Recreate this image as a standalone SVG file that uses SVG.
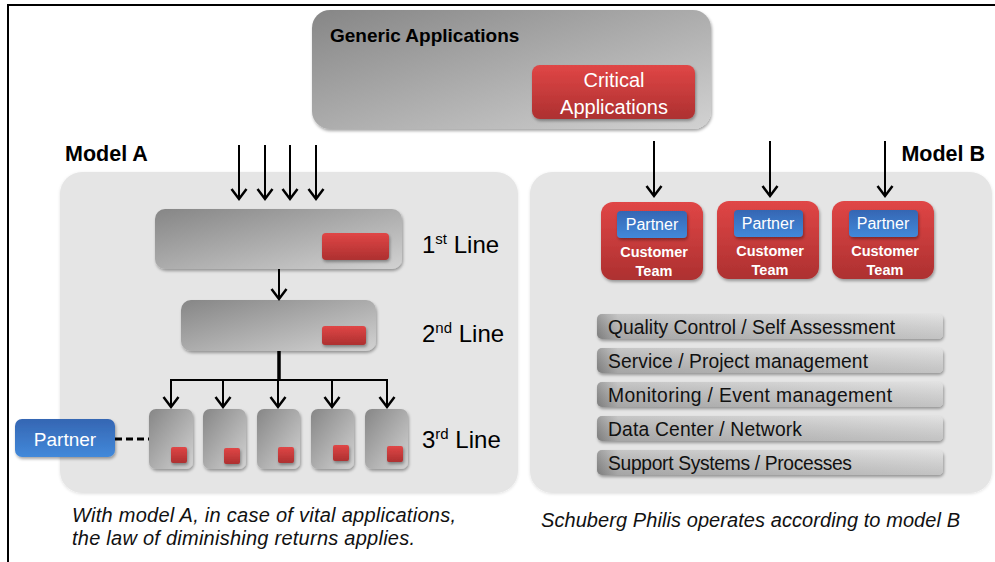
<svg xmlns="http://www.w3.org/2000/svg" width="995" height="562" viewBox="0 0 995 562">
<style>
text{font-family:"Liberation Sans",Arial,sans-serif}
.b{font-weight:bold}
.w{fill:#fff}
.k{fill:#000}
.it{font-style:italic;font-size:20px;fill:#111}
.lbl{font-size:24px;fill:#000}
.sup{font-size:15px}
.bar{font-size:19.3px;fill:#111}
.conn{stroke:#000;stroke-width:2;fill:none}
.panel{fill:#e5e5e5}
</style>
<defs>
<linearGradient id="gray" x1="0" y1="0" x2="1" y2="1">
<stop offset="0" stop-color="#868686"/>
<stop offset="1" stop-color="#d2d2d2"/>
</linearGradient>
<linearGradient id="red" x1="0" y1="0" x2="0" y2="1">
<stop offset="0" stop-color="#e04646"/>
<stop offset="1" stop-color="#ad3030"/>
</linearGradient>
<linearGradient id="blue" x1="0" y1="0" x2="0" y2="1">
<stop offset="0" stop-color="#3566b3"/>
<stop offset="1" stop-color="#4289da"/>
</linearGradient>
<linearGradient id="barg" x1="0" y1="0" x2="1" y2="0">
<stop offset="0" stop-color="#8e8e8e"/>
<stop offset="0.06" stop-color="#bcbcbc"/>
<stop offset="1" stop-color="#dddddd"/>
</linearGradient>
<linearGradient id="barv" x1="0" y1="0" x2="0" y2="1">
<stop offset="0" stop-color="#fff" stop-opacity="0.15"/>
<stop offset="1" stop-color="#000" stop-opacity="0.12"/>
</linearGradient>
<filter id="sh" x="-20%" y="-20%" width="140%" height="150%">
<feDropShadow dx="1" dy="2" stdDeviation="1.6" flood-color="#000" flood-opacity="0.35"/>
</filter>
<filter id="psh" x="-5%" y="-5%" width="110%" height="110%">
<feDropShadow dx="0" dy="1" stdDeviation="1.5" flood-color="#000" flood-opacity="0.12"/>
</filter>
<marker id="ah" markerUnits="userSpaceOnUse" markerWidth="20" markerHeight="20" viewBox="-10 -8 12 16" refX="0" refY="0" orient="auto">
<path d="M-8,-6 L0,0 L-8,6" fill="none" stroke="#000" stroke-width="2"/>
</marker>
</defs>

<g id="frame">
<path d="M8,562 V5 H995" fill="none" stroke="#000" stroke-width="2"/>
</g>

<g id="generic-applications">
<rect x="312" y="10" width="399" height="119" rx="18" fill="url(#gray)" filter="url(#sh)"/>
<text x="330" y="42" class="b k" font-size="19">Generic Applications</text>
</g>
<g id="critical-applications">
<rect x="532" y="65" width="163" height="54" rx="8" fill="url(#red)" filter="url(#sh)"/>
<text x="614" y="87" class="w" font-size="20" text-anchor="middle">Critical</text>
<text x="614" y="114" class="w" font-size="20" text-anchor="middle">Applications</text>
</g>

<g id="model-a-label"><text x="65" y="161" class="b k" font-size="21.5">Model A</text></g>
<g id="model-b-label"><text x="985" y="161" class="b k" font-size="21.5" text-anchor="end">Model B</text></g>

<g id="model-a-panel"><rect x="60" y="172" width="458" height="321" rx="22" class="panel" filter="url(#psh)"/></g>
<g id="model-b-panel"><rect x="530" y="172" width="462" height="321" rx="22" class="panel" filter="url(#psh)"/></g>

<g id="line1">
<rect x="155" y="209" width="247" height="60" rx="10" fill="url(#gray)" filter="url(#sh)"/>
<rect x="322" y="233" width="67" height="27" rx="4" fill="url(#red)" filter="url(#sh)"/>
<text x="422" y="253" class="lbl">1<tspan class="sup" dy="-9">st</tspan><tspan dy="9"> Line</tspan></text>
</g>
<g id="line2">
<rect x="181" y="300" width="195" height="51" rx="10" fill="url(#gray)" filter="url(#sh)"/>
<rect x="322" y="326" width="44" height="19" rx="3" fill="url(#red)" filter="url(#sh)"/>
<text x="422" y="342" class="lbl">2<tspan class="sup" dy="-9">nd</tspan><tspan dy="9"> Line</tspan></text>
</g>
<g id="line3">
<rect x="149" y="409" width="44" height="60" rx="7" fill="url(#gray)" filter="url(#sh)"/>
<rect x="171" y="447" width="16" height="16" rx="2" fill="url(#red)" filter="url(#sh)"/>
<rect x="203" y="409" width="43" height="60" rx="7" fill="url(#gray)" filter="url(#sh)"/>
<rect x="224" y="448" width="16" height="16" rx="2" fill="url(#red)" filter="url(#sh)"/>
<rect x="257" y="409" width="43" height="60" rx="7" fill="url(#gray)" filter="url(#sh)"/>
<rect x="278" y="447" width="16" height="16" rx="2" fill="url(#red)" filter="url(#sh)"/>
<rect x="311" y="409" width="43" height="60" rx="7" fill="url(#gray)" filter="url(#sh)"/>
<rect x="333" y="445" width="16" height="16" rx="2" fill="url(#red)" filter="url(#sh)"/>
<rect x="365" y="409" width="43" height="60" rx="7" fill="url(#gray)" filter="url(#sh)"/>
<rect x="387" y="446" width="16" height="16" rx="2" fill="url(#red)" filter="url(#sh)"/>
<text x="422" y="448" class="lbl">3<tspan class="sup" dy="-9">rd</tspan><tspan dy="9"> Line</tspan></text>
</g>
<g id="partner-a">
<rect x="15" y="419" width="100" height="38" rx="7" fill="url(#blue)" filter="url(#sh)"/>
<text x="65" y="446" class="w" font-size="19" text-anchor="middle">Partner</text>
</g>

<g id="customer-team-1">
<rect x="601" y="202" width="102" height="78" rx="12" fill="url(#red)" filter="url(#sh)"/>
<rect x="617" y="211" width="70" height="27" rx="4" fill="url(#blue)" filter="url(#sh)"/>
<text x="652" y="230" class="w" font-size="16" text-anchor="middle">Partner</text>
<text x="654" y="257" class="w b" font-size="14.5" text-anchor="middle">Customer</text>
<text x="654" y="276" class="w b" font-size="14.5" text-anchor="middle">Team</text>
</g>
<g id="customer-team-2">
<rect x="717" y="201" width="102" height="78" rx="12" fill="url(#red)" filter="url(#sh)"/>
<rect x="734" y="210" width="69" height="27" rx="4" fill="url(#blue)" filter="url(#sh)"/>
<text x="768" y="229" class="w" font-size="16" text-anchor="middle">Partner</text>
<text x="770" y="256" class="w b" font-size="14.5" text-anchor="middle">Customer</text>
<text x="770" y="275" class="w b" font-size="14.5" text-anchor="middle">Team</text>
</g>
<g id="customer-team-3">
<rect x="832" y="201" width="102" height="78" rx="12" fill="url(#red)" filter="url(#sh)"/>
<rect x="849" y="210" width="69" height="27" rx="4" fill="url(#blue)" filter="url(#sh)"/>
<text x="883" y="229" class="w" font-size="16" text-anchor="middle">Partner</text>
<text x="885" y="256" class="w b" font-size="14.5" text-anchor="middle">Customer</text>
<text x="885" y="275" class="w b" font-size="14.5" text-anchor="middle">Team</text>
</g>

<g id="bar-quality">
<rect x="597" y="314" width="346" height="25" rx="5" fill="url(#barg)" filter="url(#sh)"/>
<rect x="597" y="314" width="346" height="25" rx="5" fill="url(#barv)"/>
<text x="608" y="334" class="bar" textLength="287">Quality Control / Self Assessment</text>
</g>
<g id="bar-service">
<rect x="597" y="348" width="346" height="25" rx="5" fill="url(#barg)" filter="url(#sh)"/>
<rect x="597" y="348" width="346" height="25" rx="5" fill="url(#barv)"/>
<text x="608" y="368" class="bar" textLength="260">Service / Project management</text>
</g>
<g id="bar-monitoring">
<rect x="597" y="382" width="346" height="25" rx="5" fill="url(#barg)" filter="url(#sh)"/>
<rect x="597" y="382" width="346" height="25" rx="5" fill="url(#barv)"/>
<text x="608" y="402" class="bar" textLength="284">Monitoring / Event management</text>
</g>
<g id="bar-datacenter">
<rect x="597" y="416" width="346" height="25" rx="5" fill="url(#barg)" filter="url(#sh)"/>
<rect x="597" y="416" width="346" height="25" rx="5" fill="url(#barv)"/>
<text x="608" y="436" class="bar" textLength="194">Data Center / Network</text>
</g>
<g id="bar-support">
<rect x="597" y="450" width="346" height="25" rx="5" fill="url(#barg)" filter="url(#sh)"/>
<rect x="597" y="450" width="346" height="25" rx="5" fill="url(#barv)"/>
<text x="608" y="470" class="bar" textLength="244">Support Systems / Processes</text>
</g>

<g id="caption-a">
<text x="72" y="522" class="it" textLength="384">With model A, in case of vital applications,</text>
<text x="72" y="545" class="it" textLength="343">the law of diminishing returns applies.</text>
</g>
<g id="caption-b">
<text x="541" y="527" class="it" textLength="419">Schuberg Philis operates according to model B</text>
</g>

<g id="connectors">
<line x1="239" y1="145" x2="239" y2="199" class="conn" marker-end="url(#ah)"/>
<line x1="265" y1="145" x2="265" y2="199" class="conn" marker-end="url(#ah)"/>
<line x1="290" y1="145" x2="290" y2="199" class="conn" marker-end="url(#ah)"/>
<line x1="316" y1="145" x2="316" y2="199" class="conn" marker-end="url(#ah)"/>
<line x1="654" y1="141" x2="654" y2="196" class="conn" marker-end="url(#ah)"/>
<line x1="770" y1="141" x2="770" y2="196" class="conn" marker-end="url(#ah)"/>
<line x1="885" y1="141" x2="885" y2="196" class="conn" marker-end="url(#ah)"/>
<line x1="279" y1="269" x2="279" y2="299" class="conn" marker-end="url(#ah)"/>
<line x1="279" y1="351" x2="279" y2="381" stroke="#000" stroke-width="3.5"/>
<polyline points="171,407 171,380 387,380 387,407" class="conn" marker-end="url(#ah)"/>
<line x1="171" y1="382" x2="171" y2="407" class="conn" marker-end="url(#ah)"/>
<line x1="223" y1="380" x2="223" y2="407" class="conn" marker-end="url(#ah)"/>
<line x1="278" y1="380" x2="278" y2="407" class="conn" marker-end="url(#ah)"/>
<line x1="332" y1="380" x2="332" y2="407" class="conn" marker-end="url(#ah)"/>
<line x1="115" y1="439" x2="149" y2="439" stroke="#000" stroke-width="3" stroke-dasharray="7,4"/>
</g>
</svg>
